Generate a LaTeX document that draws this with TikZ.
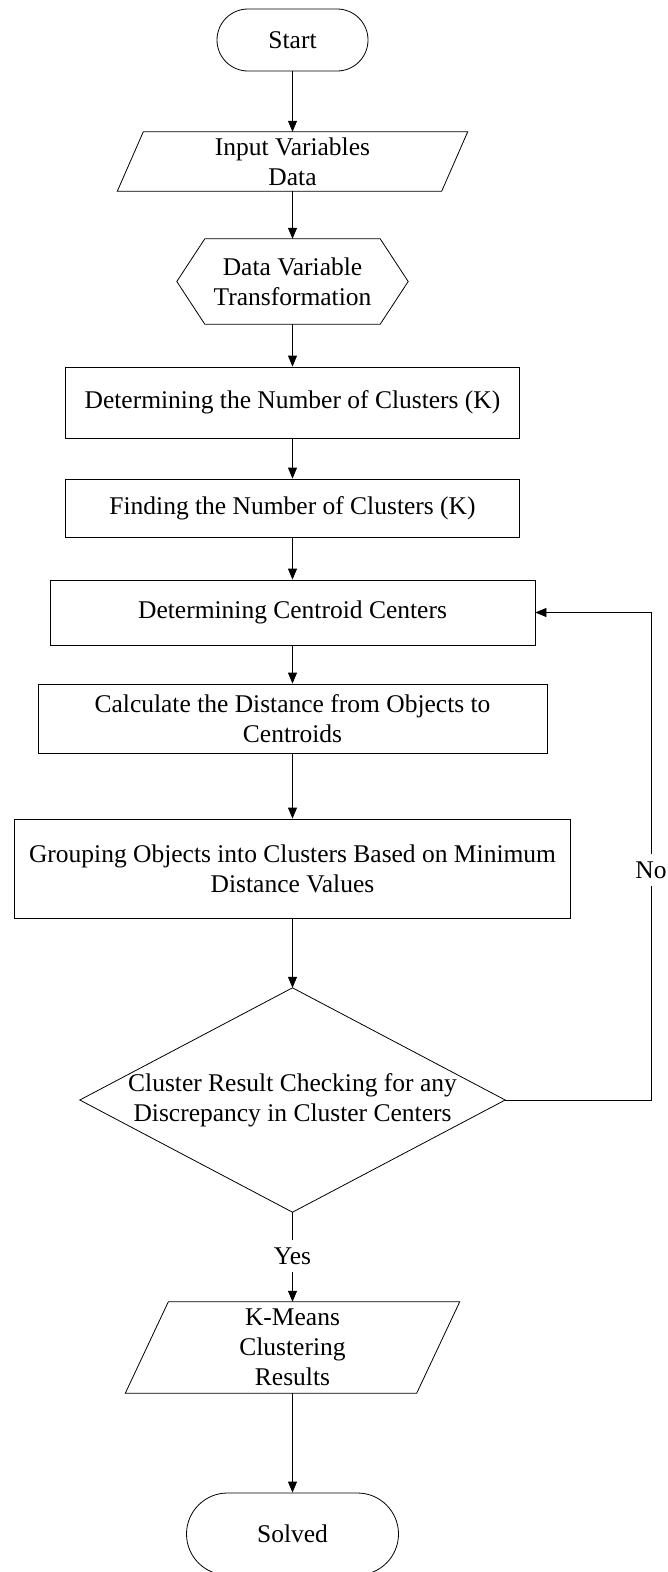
\documentclass[tikz,border=0pt]{standalone}
\usepackage{fontspec}
\setmainfont{Liberation Serif}
\usetikzlibrary{arrows.meta,calc}
\begin{document}
\begin{tikzpicture}[x=1pt,y=-1pt,
  every node/.style={font=\fontsize{25.5}{30}\selectfont, align=center, inner sep=0pt},
  frame/.style={draw, line width=0.8pt},
  line/.style={line width=0.8pt},
  arr/.style={line width=0.8pt, -{Triangle[width=9pt,length=11pt]}},
  lbl/.style={fill=white, inner xsep=1pt, inner ysep=7pt}]
\useasboundingbox (0,0) rectangle (667,1572);
\fill[white] (0,0) rectangle (667,1572);

% nodes
\node[frame, rounded corners=31pt, minimum width=151pt, minimum height=62pt] (start) at (292.5,40) {Start};

\node[minimum width=350pt, minimum height=59pt] (inp) at (292.5,161.5) {Input Variables\\Data};
\draw[frame] ($(inp.north west)+(26pt,0)$) -- (inp.north east) -- ($(inp.south east)+(-26pt,0)$) -- (inp.south west) -- cycle;

\node[minimum width=231pt, minimum height=85pt] (hex) at (292.5,281.5) {Data Variable\\Transformation};
\draw[frame] ($(hex.north west)+(28pt,0)$) -- ($(hex.north east)+(-28pt,0)$) -- (hex.east) -- ($(hex.south east)+(-28pt,0)$) -- ($(hex.south west)+(28pt,0)$) -- (hex.west) -- cycle;

\node[frame, minimum width=454pt, minimum height=71pt] (b1) at (292.5,402.5) {Determining the Number of Clusters (K)};
\node[frame, minimum width=454pt, minimum height=58pt] (b2) at (292.5,508) {Finding the Number of Clusters (K)};
\node[frame, minimum width=485pt, minimum height=65pt] (b3) at (292.5,612.5) {Determining Centroid Centers};
\node[frame, minimum width=509pt, minimum height=69pt] (b4) at (292.5,718.5) {Calculate the Distance from Objects to\\Centroids};
\node[frame, minimum width=556pt, minimum height=99pt] (b5) at (292.5,868.5) {Grouping Objects into Clusters Based on Minimum\\Distance Values};

\node[minimum width=425pt, minimum height=224pt] (dia) at (292.5,1100) {Cluster Result Checking for any\\Discrepancy in Cluster Centers};
\draw[frame] (dia.north) -- (dia.east) -- (dia.south) -- (dia.west) -- cycle;

\node[lbl] (yes) at (292.5,1256) {Yes};
\node[lbl] (no) at (651,870) {No};

\node[minimum width=334pt, minimum height=91pt] (out) at (292.5,1347.5) {K-Means\\Clustering\\Results};
\draw[frame] ($(out.north west)+(43pt,0)$) -- (out.north east) -- ($(out.south east)+(-43pt,0)$) -- (out.south west) -- cycle;

\node[frame, rounded corners=41pt, minimum width=212pt, minimum height=82pt] (end) at (292.5,1534) {Solved};

% connectors
\draw[arr] (start.south) -- (inp.north);
\draw[arr] (inp.south) -- (hex.north);
\draw[arr] (hex.south) -- (b1.north);
\draw[arr] (b1.south) -- (b2.north);
\draw[arr] (b2.south) -- (b3.north);
\draw[arr] (b3.south) -- (b4.north);
\draw[arr] (b4.south) -- (b5.north);
\draw[arr] (b5.south) -- (dia.north);
\draw[line] (dia.south) -- (yes);
\draw[arr] (yes) -- (out.north);
\draw[arr] (out.south) -- (end.north);
\draw[line] (dia.east) -| (no);
\draw[arr] (no) |- (b3.east);
\end{tikzpicture}
\end{document}
